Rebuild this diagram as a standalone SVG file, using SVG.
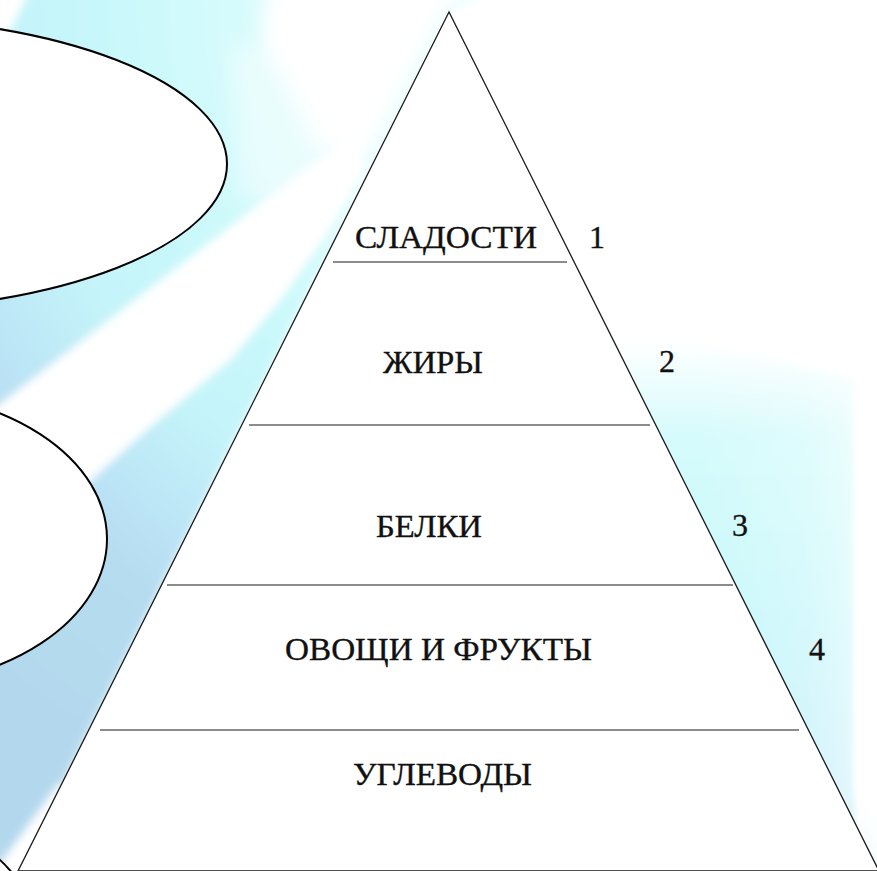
<svg xmlns="http://www.w3.org/2000/svg" width="877" height="871" viewBox="0 0 877 871">
  <defs>
    <radialGradient id="rayGrad" gradientUnits="userSpaceOnUse" cx="560" cy="0" r="900">
      <stop offset="0.3" stop-color="#dcfcfd"/>
      <stop offset="0.5" stop-color="#c9f8fb"/>
      <stop offset="0.62" stop-color="#c4f3f9"/>
      <stop offset="0.72" stop-color="#bce5f6"/>
      <stop offset="0.8" stop-color="#b6dcf0"/>
      <stop offset="1" stop-color="#b3d8ed"/>
    </radialGradient>
    <linearGradient id="rightGrad" gradientUnits="userSpaceOnUse" x1="0" y1="340" x2="0" y2="871">
      <stop offset="0" stop-color="#ffffff"/>
      <stop offset="0.18" stop-color="#d6fbfc"/>
      <stop offset="0.5" stop-color="#c9f8fb"/>
      <stop offset="0.85" stop-color="#c3eff9"/>
      <stop offset="1" stop-color="#bce3f4"/>
    </linearGradient>
    <linearGradient id="rightFade" gradientUnits="userSpaceOnUse" x1="700" y1="0" x2="877" y2="0">
      <stop offset="0" stop-color="#ffffff" stop-opacity="0"/>
      <stop offset="0.6" stop-color="#ffffff" stop-opacity="0.25"/>
      <stop offset="0.85" stop-color="#ffffff" stop-opacity="0.5"/>
      <stop offset="0.9" stop-color="#ffffff" stop-opacity="0.95"/>
      <stop offset="1" stop-color="#ffffff" stop-opacity="0.85"/>
    </linearGradient>
    <filter id="soft" x="-10%" y="-10%" width="120%" height="120%">
      <feGaussianBlur stdDeviation="4"/>
    </filter>
    <filter id="softer" x="-20%" y="-20%" width="140%" height="140%">
      <feGaussianBlur stdDeviation="10"/>
    </filter>
  </defs>
  <style>
    .oval { fill: #ffffff; stroke: #000000; stroke-width: 2; }
    .pyr { fill: #ffffff; stroke: #1a1a1a; stroke-width: 1.3; }
    .tier { stroke: #666666; stroke-width: 1.6; fill: none; }
    .lbl { font-family: "Liberation Serif", "Times New Roman", "DejaVu Serif", serif; font-size: 32px; fill: #111111; stroke: #111111; stroke-width: 0.35; }
  </style>

  <rect width="877" height="871" fill="#ffffff"/>

  <g id="background">
    <g filter="url(#soft)">
      <polygon points="30,-30 520,-30 449,12 10,890 -30,890 -30,-30" fill="url(#rayGrad)"/>
      <polygon points="600,340 680,340 855,380 855,790 890,880 600,890" fill="url(#rightGrad)"/>
      <polygon points="-30,427 360,127 365,170 330,230 280,300 230,360 150,427 60,508 -30,589" fill="#ffffff"/>
      <polygon points="-30,905 58,785 75,785 25,905" fill="#ffffff"/>
      <polygon points="-30,-30 40,-30 5,40 -30,40" fill="#ffffff"/>
    </g>
    <g filter="url(#softer)">
      <polygon points="270,-40 520,-40 449,12 370,160 320,150 290,90 260,40" fill="#ffffff"/>
      <polygon points="230,40 290,60 330,150 300,200 240,200" fill="#ffffff" opacity="0.45"/>
    </g>
    <rect x="700" y="0" width="177" height="871" fill="url(#rightFade)"/>
  </g>

  <g id="ovals">
    <ellipse id="oval1" class="oval" cx="-150" cy="164" rx="377" ry="147"/>
    <ellipse id="oval2" class="oval" cx="-120" cy="539" rx="227" ry="148"/>
    <ellipse id="oval3" class="oval" cx="-60" cy="956" rx="100" ry="120"/>
  </g>

  <g id="pyramid">
    <polygon class="pyr" points="449,12 18,871 879,871"/>
  </g>

  <g id="connectors">
    <line class="tier" x1="333" y1="262" x2="567" y2="262"/>
    <line class="tier" x1="249" y1="425" x2="650" y2="425"/>
    <line class="tier" x1="167" y1="585" x2="733" y2="585"/>
    <line class="tier" x1="100" y1="730" x2="799" y2="730"/>
  </g>

  <g id="tier1"><text class="lbl" x="355" y="248" textLength="182" lengthAdjust="spacingAndGlyphs">СЛАДОСТИ</text></g>
  <g id="tier2"><text class="lbl" x="383" y="373" textLength="100" lengthAdjust="spacingAndGlyphs">ЖИРЫ</text></g>
  <g id="tier3"><text class="lbl" x="376" y="537" textLength="106" lengthAdjust="spacingAndGlyphs">БЕЛКИ</text></g>
  <g id="tier4"><text class="lbl" x="285" y="660" textLength="307" lengthAdjust="spacingAndGlyphs">ОВОЩИ И ФРУКТЫ</text></g>
  <g id="tier5"><text class="lbl" x="353" y="785" textLength="179" lengthAdjust="spacingAndGlyphs">УГЛЕВОДЫ</text></g>

  <g id="numbers">
    <text class="lbl" x="597" y="248" text-anchor="middle">1</text>
    <text class="lbl" x="667" y="372" text-anchor="middle">2</text>
    <text class="lbl" x="740" y="536" text-anchor="middle">3</text>
    <text class="lbl" x="817" y="660" text-anchor="middle">4</text>
  </g>
</svg>
